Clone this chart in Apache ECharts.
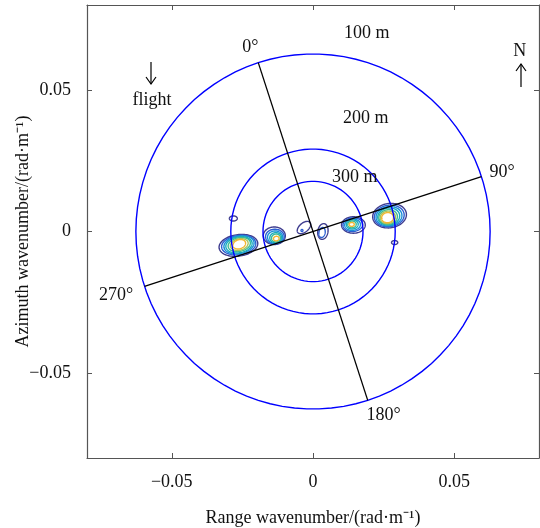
<!DOCTYPE html>
<html>
<head>
<meta charset="utf-8">
<script src="https://cdn.jsdelivr.net/npm/echarts@6/dist/echarts.min.js"></script>
<style>
    html, body { margin: 0; padding: 0; background: #fff; }
    #WaveSpectrum { width: 540px; height: 528px; }
</style>
</head>
<body>
<div id="WaveSpectrum"></div>
<script>
// axis ticks (rad/m)
const xTicks = [-0.05, 0, 0.05];
const yTicks = [-0.05, 0, 0.05];

// wavelength circles, radius (rad/m)
const circleRadius = [0.0627, 0.0291, 0.0177];
const circleLabels = ['100 m', '200 m', '300 m'];
const circleLabelX = [0.0190, 0.0187, 0.0148];
const circleLabelY = [0.0700, 0.0400, 0.0190];

// direction cross: the 0° arm sits this many degrees from north (clockwise +)
const headingDeg = -18;
const directionLabels = ['0°', '90°', '180°', '270°'];
const directionLabelX = [-0.0222, 0.0669, 0.0250, -0.0697];
const directionLabelY = [0.0651, 0.0208, -0.0648, -0.0225];

// contour rings, in 1e-3 rad/m: [kx, ky, rx, ry, rotation deg, level]
const contourRings = [
    // left big peak
    [-26.4, -4.9, 6.9, 3.8, 8, 0],
    [-26.3, -4.8, 6.1, 3.4, 8, 1],
    [-26.2, -4.7, 5.4, 3.1, 10, 2],
    [-26.2, -4.7, 4.7, 2.8, 10, 3],
    [-26.1, -4.6, 4.0, 2.4, 12, 4],
    [-26.1, -4.6, 3.2, 2.0, 14, 5],
    [-26.1, -4.5, 2.3, 1.6, 18, 6],
    // left inner peak
    [-13.7, -1.5, 3.9, 3.1, 0, 0],
    [-13.5, -1.8, 3.3, 2.6, 0, 1],
    [-13.4, -2.0, 2.7, 2.2, 0, 2],
    [-13.2, -2.2, 2.1, 1.8, 5, 3],
    [-13.1, -2.3, 1.6, 1.4, 10, 4],
    [-13.0, -2.5, 1.0, 0.8, 10, 6],
    // centre spots
    [-3.2, 1.4, 2.8, 1.6, 40, 0],
    [-3.9, 0.35, 0.35, 0.35, 0, 1],
    [3.5, 0.0, 1.8, 2.8, -10, 0],
    [3.2, -0.35, 1.1, 1.8, -10, 1],
    // right inner peak
    [14.3, 2.3, 4.2, 2.9, 0, 0],
    [14.1, 2.4, 3.5, 2.4, 5, 1],
    [14.0, 2.4, 2.8, 2.0, 5, 2],
    [13.9, 2.5, 2.1, 1.6, 5, 3],
    [13.8, 2.5, 1.5, 1.2, 5, 4],
    [13.7, 2.5, 0.9, 0.7, 0, 6],
    // right big peak
    [27.1, 5.6, 6.0, 4.3, 8, 0],
    [27.0, 5.5, 5.3, 3.8, 8, 1],
    [26.9, 5.4, 4.6, 3.4, 8, 2],
    [26.8, 5.3, 3.9, 3.0, 8, 3],
    [26.6, 5.1, 3.3, 2.6, 8, 4],
    [26.5, 5.0, 2.7, 2.2, 8, 5],
    [26.4, 4.9, 2.1, 1.8, 8, 6],
    // small side lobes
    [-28.2, 4.6, 1.4, 0.9, 0, 0],
    [28.9, -3.9, 1.1, 0.7, 0, 0]
];

const levelColors = ['#3f3d8f', '#2c5fd3', '#1b8fd8', '#16aabf', '#3dbb96', '#a6c35e', '#f2b632'];
const FONT = '"Liberation Serif", "Times New Roman", serif';

function fmt(v) {
    return v === 0 ? '0' : String(v).replace('-', '\u2212');
}

function ellipsePoints(api, cx, cy, rx, ry, rotDeg) {
    const rot = rotDeg * Math.PI / 180;
    const pts = [];
    for (let i = 0; i < 90; i++) {
        const t = i / 90 * 2 * Math.PI;
        const x = rx * Math.cos(t), y = ry * Math.sin(t);
        pts.push(api.coord([
            cx + x * Math.cos(rot) - y * Math.sin(rot),
            cy + x * Math.sin(rot) + y * Math.cos(rot)
        ]));
    }
    return pts;
}

const textItem = (color) => function (params, api) {
    const p = api.coord([api.value(0), api.value(1)]);
    return {
        type: 'text',
        x: p[0], y: p[1],
        style: {
            text: api.value(2),
            font: '18px ' + FONT,
            fill: color,
            align: 'center',
            verticalAlign: 'middle'
        }
    };
};

const outerR = circleRadius[0];

const axisCommon = {
    type: 'value',
    min: -0.08,
    max: 0.08,
    axisLine: { show: true, onZero: false, lineStyle: { color: '#555', width: 1.2 } },
    splitLine: { show: false }
};

const option = {
    animation: false,
    grid: { left: 87, right: 1, top: 5, bottom: 70, containLabel: false, outerBoundsMode: 'none' },
    xAxis: [
        Object.assign({}, axisCommon, {
            position: 'bottom',
            name: 'Range wavenumber/(rad\u00b7m\u207b\u00b9)',
            nameLocation: 'middle',
            nameGap: 51,
            nameMoveOverlap: false,
            nameTextStyle: { fontFamily: FONT, fontSize: 18, color: '#111' },
            axisTick: { show: true, inside: true, length: 5, customValues: xTicks, lineStyle: { color: '#555' } },
            axisLabel: { show: true, customValues: xTicks, formatter: fmt, margin: 15, fontFamily: FONT, fontSize: 18, color: '#111' }
        }),
        Object.assign({}, axisCommon, {
            position: 'top',
            axisTick: { show: true, inside: true, length: 5, customValues: xTicks, lineStyle: { color: '#555' } },
            axisLabel: { show: false }
        })
    ],
    yAxis: [
        Object.assign({}, axisCommon, {
            position: 'left',
            name: 'Azimuth wavenumber/(rad\u00b7m\u207b\u00b9)',
            nameLocation: 'middle',
            nameRotate: 90,
            nameGap: 55,
            nameMoveOverlap: false,
            nameTextStyle: { fontFamily: FONT, fontSize: 18, color: '#111' },
            axisTick: { show: true, inside: true, length: 5, customValues: yTicks, lineStyle: { color: '#555' } },
            axisLabel: { show: true, customValues: yTicks, formatter: fmt, margin: 16, fontFamily: FONT, fontSize: 18, color: '#111' }
        }),
        Object.assign({}, axisCommon, {
            position: 'right',
            axisTick: { show: true, inside: true, length: 5, customValues: yTicks, lineStyle: { color: '#555' } },
            axisLabel: { show: false }
        })
    ],
    series: [
        {
            // spectrum contours
            type: 'custom',
            xAxisIndex: 0, yAxisIndex: 0,
            data: contourRings,
            renderItem: function (params, api) {
                const pts = ellipsePoints(api, api.value(0) / 1000, api.value(1) / 1000,
                    api.value(2) / 1000, api.value(3) / 1000, api.value(4));
                return {
                    type: 'polygon',
                    shape: { points: pts },
                    style: { fill: 'none', stroke: levelColors[api.value(5)], lineWidth: 1.4 }
                };
            }
        },
        {
            // wavelength circles
            type: 'custom',
            xAxisIndex: 0, yAxisIndex: 0,
            data: circleRadius.map(r => [0, 0, r]),
            renderItem: function (params, api) {
                const r = api.value(2);
                return {
                    type: 'polygon',
                    shape: { points: ellipsePoints(api, 0, 0, r, r, 0) },
                    style: { fill: 'none', stroke: '#0000ff', lineWidth: 1.4 }
                };
            }
        },
        {
            // direction cross
            type: 'custom',
            xAxisIndex: 0, yAxisIndex: 0,
            data: [[0, 0, 0], [0, 0, 90]],
            renderItem: function (params, api) {
                const a = (headingDeg + api.value(2)) * Math.PI / 180;
                const dx = outerR * Math.sin(a), dy = outerR * Math.cos(a);
                const p1 = api.coord([dx, dy]);
                const p2 = api.coord([-dx, -dy]);
                return {
                    type: 'line',
                    shape: { x1: p1[0], y1: p1[1], x2: p2[0], y2: p2[1] },
                    style: { stroke: '#000', lineWidth: 1.3 }
                };
            }
        },
        {
            type: 'custom',
            xAxisIndex: 0, yAxisIndex: 0,
            data: circleLabels.map((t, i) => [circleLabelX[i], circleLabelY[i], t]),
            renderItem: textItem('#111')
        },
        {
            type: 'custom',
            xAxisIndex: 0, yAxisIndex: 0,
            data: directionLabels.map((t, i) => [directionLabelX[i], directionLabelY[i], t]),
            renderItem: textItem('#111')
        },
        {
            // flight / north markers
            type: 'custom',
            xAxisIndex: 0, yAxisIndex: 0,
            data: [[-0.057, 0.0465, 'flight'], [0.0732, 0.0636, 'N']],
            renderItem: textItem('#111')
        }
    ],
    graphic: [
        // flight arrow (down)
        { type: 'line', shape: { x1: 151, y1: 62, x2: 151, y2: 84 }, style: { stroke: '#000', lineWidth: 1.2 } },
        { type: 'polyline', shape: { points: [[146, 77], [151, 84], [156, 77]] }, style: { stroke: '#000', fill: 'none', lineWidth: 1.2 } },
        // north arrow (up)
        { type: 'line', shape: { x1: 521, y1: 64, x2: 521, y2: 87 }, style: { stroke: '#000', lineWidth: 1.2 } },
        { type: 'polyline', shape: { points: [[516, 71], [521, 64], [526, 71]] }, style: { stroke: '#000', fill: 'none', lineWidth: 1.2 } }
    ]
};

let myChart = echarts.init(document.getElementById('WaveSpectrum'));
myChart.setOption(option);

window.onresize = function () {
    myChart.resize()
}
</script>
</body>
</html>
